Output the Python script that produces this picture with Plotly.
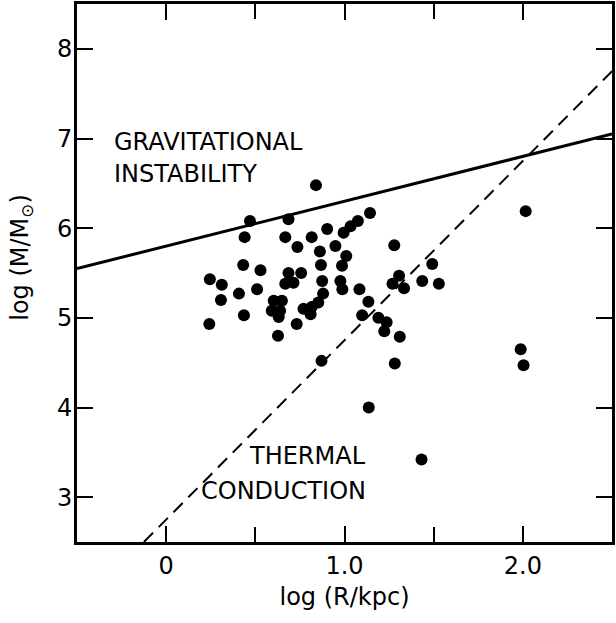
import plotly.graph_objects as go

# Data points: log(R/kpc), log(M/Msun)
log_R = [0.84, 0.47, 0.686, 0.44, 0.668, 0.736, 0.816, 0.903, 0.862, 0.868,
         0.949, 0.995, 1.034, 1.075, 1.143, 1.01, 0.986, 0.977, 0.988, 1.084,
         1.134, 1.099, 1.19, 0.871, 0.875, 0.88, 0.853, 0.816, 0.77, 0.81,
         0.732, 0.627, 0.757, 0.686, 0.668, 0.714, 0.603, 0.649, 0.592, 0.639,
         0.631, 0.529, 0.432, 0.51, 0.408, 0.436, 0.245, 0.312, 0.307, 0.242,
         1.279, 1.492, 1.436, 1.529, 1.306, 1.269, 1.334, 2.016, 1.236, 1.223,
         1.31, 1.282, 1.136, 1.988, 2.004, 1.432]
log_M = [6.48, 6.08, 6.10, 5.90, 5.90, 5.79, 5.90, 5.99, 5.74, 5.59,
         5.80, 5.95, 6.02, 6.08, 6.17, 5.69, 5.58, 5.41, 5.32, 5.32,
         5.18, 5.03, 5.00, 4.52, 5.41, 5.27, 5.17, 5.12, 5.10, 5.04,
         4.93, 4.80, 5.50, 5.50, 5.38, 5.39, 5.19, 5.19, 5.08, 5.08,
         5.01, 5.53, 5.59, 5.32, 5.27, 5.03, 5.43, 5.37, 5.20, 4.93,
         5.81, 5.60, 5.41, 5.38, 5.47, 5.38, 5.33, 6.19, 4.95, 4.85,
         4.79, 4.49, 4.00, 4.65, 4.47, 3.42]

# Boundary lines (endpoints in data units)
grav_x = [-0.5, 2.5]
grav_y = [5.55, 7.05]
therm_x = [-0.125, 2.5]
therm_y = [2.5, 7.75]

x_tickvals = [0, 1.0, 2.0]
x_ticktext = ["0", "1.0", "2.0"]
x_minor_vals = [0.5, 1.5]
y_tickvals = [3, 4, 5, 6, 7, 8]
y_ticktext = ["3", "4", "5", "6", "7", "8"]

FONT = "DejaVu Sans"

fig = go.Figure()
fig.add_trace(go.Scatter(x=grav_x, y=grav_y, mode="lines",
                         line=dict(color="black", width=3), hoverinfo="skip"))
fig.add_trace(go.Scatter(x=therm_x, y=therm_y, mode="lines",
                         line=dict(color="black", width=2, dash="13px,8px"),
                         hoverinfo="skip"))
fig.add_trace(go.Scatter(x=log_R, y=log_M, mode="markers",
                         marker=dict(color="black", size=12)))

ann_font = dict(family=FONT, size=24, color="black")
fig.add_annotation(x=-0.305, y=6.96, text="GRAVITATIONAL", showarrow=False,
                   xanchor="left", yanchor="middle", font=ann_font)
fig.add_annotation(x=-0.305, y=6.60, text="INSTABILITY", showarrow=False,
                   xanchor="left", yanchor="middle", font=ann_font)
fig.add_annotation(x=1.13, y=3.46, text="THERMAL", showarrow=False,
                   xanchor="right", yanchor="middle", font=ann_font)
fig.add_annotation(x=1.13, y=3.07, text="CONDUCTION", showarrow=False,
                   xanchor="right", yanchor="middle", font=ann_font)

fig.add_annotation(xref="paper", yref="paper", x=-0.103, y=0.53,
                   text="log (M/M<sub>⊙</sub>)", textangle=-90, showarrow=False,
                   xanchor="center", yanchor="middle",
                   font=dict(family=FONT, size=24, color="black"))

fig.update_layout(
    width=616, height=623,
    margin=dict(l=77, r=1, t=2, b=81),
    paper_bgcolor="white", plot_bgcolor="white",
    showlegend=False,
    font=dict(family=FONT, color="black"),
    xaxis=dict(range=[-0.5, 2.5], tickvals=x_tickvals, ticktext=x_ticktext,
               ticks="inside", ticklen=16, tickwidth=2, tickcolor="black",
               minor=dict(tickvals=x_minor_vals, ticks="inside", ticklen=15,
                          tickwidth=2, tickcolor="black", showgrid=False),
               showline=True, linecolor="black", linewidth=3, mirror="ticks",
               showgrid=False, zeroline=False,
               tickfont=dict(family=FONT, size=24, color="black"),
               ticklabelstandoff=0,
               title=dict(text="log (R/kpc)", standoff=10,
                          font=dict(family=FONT, size=24, color="black"))),
    yaxis=dict(range=[2.5, 8.5], tickvals=y_tickvals, ticktext=y_ticktext,
               ticks="inside", ticklen=16, tickwidth=2, tickcolor="black",
               showline=True, linecolor="black", linewidth=3, mirror="ticks",
               showgrid=False, zeroline=False,
               tickfont=dict(family=FONT, size=24, color="black"),
               ticklabelstandoff=-3),
)

fig.write_html("out.html", config={"displayModeBar": False},
               post_script="document.body.style.margin='0';")
